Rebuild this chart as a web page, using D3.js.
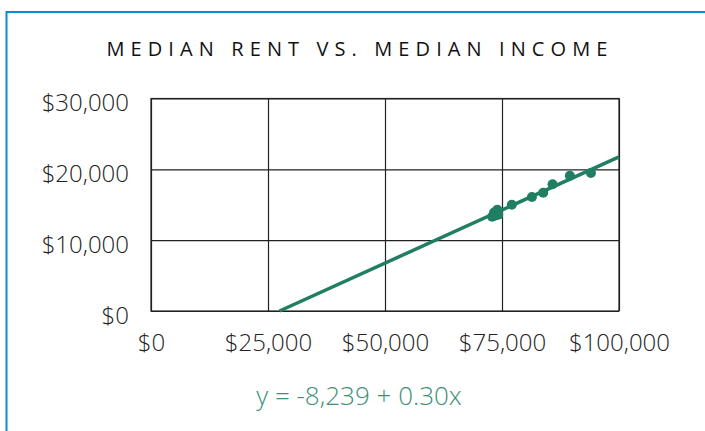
<!DOCTYPE html>
<html>
<head>
<meta charset="utf-8">
<script src="https://cdn.jsdelivr.net/npm/d3@7"></script>
<style>
  body { margin: 0; background: #fff; }
  svg text { font-family: "Open Sans", sans-serif; }
</style>
</head>
<body>
<div id="chart"></div>
<script>
// median household income vs median annual rent
var incomes = [72900, 73300, 73600, 74000, 74200, 77100, 81400, 83800, 85800, 89500, 94000];
var rents   = [13300, 13900, 13500, 14300, 13600, 15000, 16100, 16700, 17900, 19100, 19500];
var xTicks = [0, 25000, 50000, 75000, 100000];
var yTicks = [0, 10000, 20000, 30000];
var intercept = -8239, slope = 0.30;

var W = 705, H = 431;
var margin = { top: 98.5, right: 86, bottom: 120, left: 151 };
var width = 619 - margin.left, height = 311 - margin.top;
var green = '#207f62';

var svg = d3.select('#chart').append('svg').attr('width', W).attr('height', H);

// blue frame
svg.append('path')
  .attr('d', 'M6.5,' + H + 'V12H' + W)
  .attr('fill', 'none').attr('stroke', '#0b8bd0').attr('stroke-width', 2);

svg.append('text')
  .attr('x', 360).attr('y', 56)
  .attr('text-anchor', 'middle')
  .style('font-size', '20px').style('letter-spacing', '6.1px').style('fill', '#111')
  .text('MEDIAN RENT VS. MEDIAN INCOME');

var x = d3.scaleLinear().domain([0, 100000]).range([0, width]);
var y = d3.scaleLinear().domain([0, 30000]).range([height, 0]);
var fmt = function (d) { return '$' + d3.format(',')(d); };

var g = svg.append('g').attr('transform', 'translate(' + margin.left + ',' + margin.top + ')');

var xAxis = d3.axisBottom(x).tickValues(xTicks).tickSize(-height).tickPadding(23).tickFormat(fmt);
var yAxis = d3.axisLeft(y).tickValues(yTicks).tickSize(-width).tickPadding(22).tickFormat(fmt);

var gx = g.append('g').attr('transform', 'translate(0,' + height + ')').call(xAxis);
var gy = g.append('g').call(yAxis);
[gx, gy].forEach(function (a) {
  a.select('.domain').remove();
  a.selectAll('line').attr('stroke', '#222').attr('stroke-width', 1.2);
  a.selectAll('text').style('font-size', '24px').style('font-weight', 300).style('fill', '#222');
});
gx.selectAll('text').attr('dy', '0.71em');
gy.selectAll('text').attr('dy', '0.5em');

g.append('rect').attr('width', width).attr('height', height)
  .attr('fill', 'none').attr('stroke', '#222').attr('stroke-width', 1.2);

// trend line from y = 0 up to right edge
var x0 = -intercept / slope;
g.append('line')
  .attr('x1', x(x0)).attr('y1', y(0))
  .attr('x2', x(100000)).attr('y2', y(intercept + slope * 100000))
  .attr('stroke', green).attr('stroke-width', 3.5);

g.selectAll('circle').data(incomes).enter().append('circle')
  .attr('cx', function (d) { return x(d); })
  .attr('cy', function (d, i) { return y(rents[i]); })
  .attr('r', 5).attr('fill', green);

svg.append('text')
  .attr('x', 359).attr('y', 405)
  .attr('text-anchor', 'middle')
  .style('font-size', '26px').style('font-weight', 300).style('fill', '#3e9078')
  .text('y = -8,239 + 0.30x');
</script>
</body>
</html>
